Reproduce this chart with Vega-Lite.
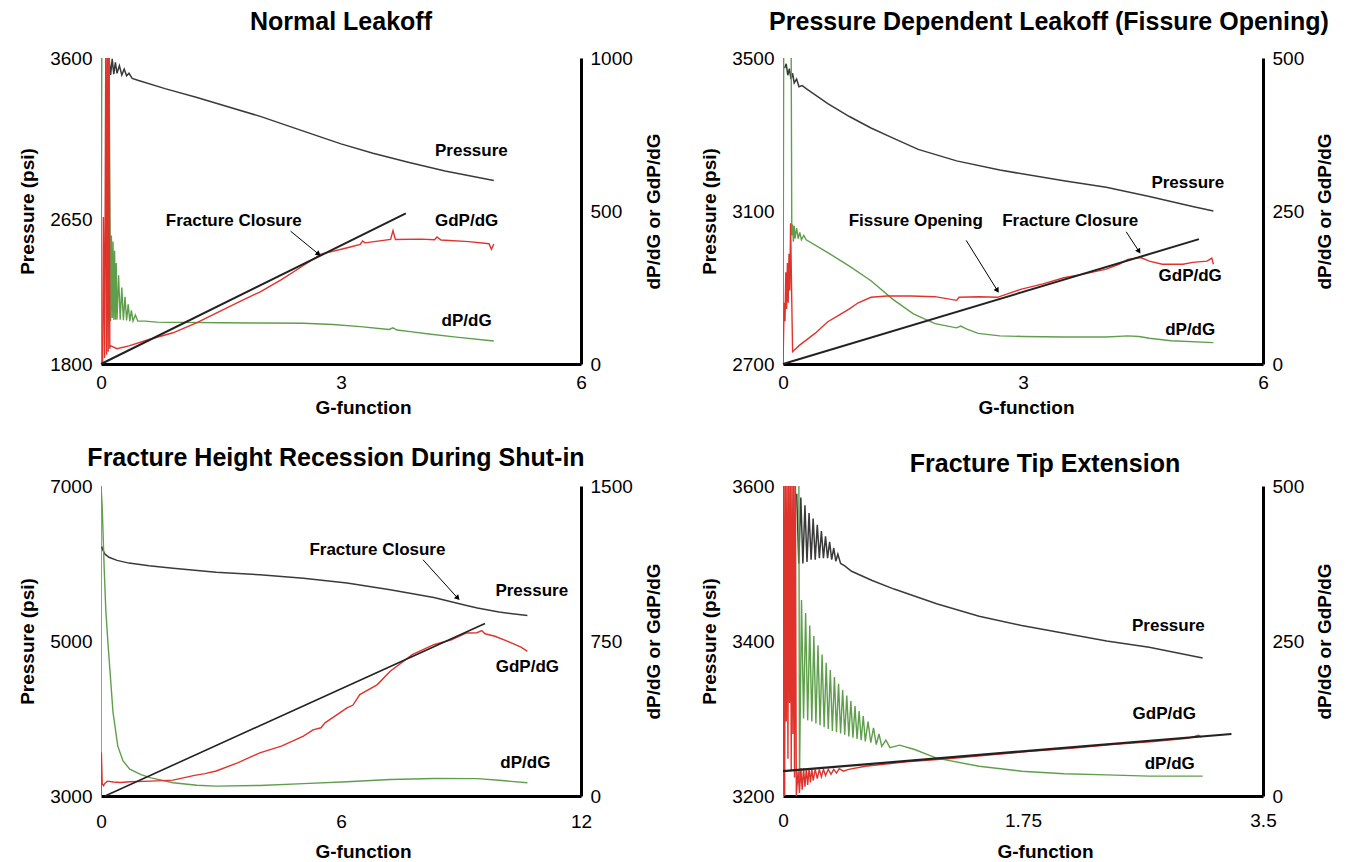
{
  "$schema": "https://vega.github.io/schema/vega-lite/v6.json",
  "background": "white",
  "padding": {"left": 18, "top": 10, "right": 5, "bottom": 0},
  "config": {
    "font": "Liberation Sans",
    "view": {"stroke": null},
    "axis": {"grid": false, "ticks": false, "labelFont": "Liberation Sans", "labelFontSize": 19, "labelColor": "#000", "titleFont": "Liberation Sans", "titleFontSize": 19, "titleFontWeight": "bold", "titleColor": "#000", "domainColor": "#000", "labelPadding": 9, "labelFlush": false},
    "axisLeft": {"domainColor": "#9a9a9a", "domainWidth": 1, "titlePadding": 12, "format": "d"},
    "axisRight": {"domainWidth": 3, "titleAngle": 270, "titleBaseline": "top", "titlePadding": 12, "format": "d"},
    "axisBottom": {"domainWidth": 3, "titlePadding": 6, "format": ".2~f"},
    "title": {"font": "Liberation Sans", "fontSize": 25, "fontWeight": "bold", "color": "#000", "frame": "group", "offset": 14},
    "text": {"font": "Liberation Sans", "fontSize": 17, "fontWeight": "bold", "color": "#000"}
  },
  "datasets": {
    "p1": [
      {"s": "P", "x": 0.10, "y": 3600}, {"s": "P", "x": 0.12, "y": 3500}, {"s": "P", "x": 0.14, "y": 3595}, {"s": "P", "x": 0.16, "y": 3505}, {"s": "P", "x": 0.18, "y": 3575}, {"s": "P", "x": 0.20, "y": 3510}, {"s": "P", "x": 0.23, "y": 3555}, {"s": "P", "x": 0.26, "y": 3500}, {"s": "P", "x": 0.29, "y": 3535}, {"s": "P", "x": 0.32, "y": 3495}, {"s": "P", "x": 0.35, "y": 3510}, {"s": "P", "x": 0.39, "y": 3480}, {"s": "P", "x": 0.46, "y": 3469}, {"s": "P", "x": 0.8, "y": 3420}, {"s": "P", "x": 1.2, "y": 3368}, {"s": "P", "x": 1.44, "y": 3334}, {"s": "P", "x": 2.0, "y": 3255}, {"s": "P", "x": 2.53, "y": 3170}, {"s": "P", "x": 3.0, "y": 3095}, {"s": "P", "x": 3.4, "y": 3040}, {"s": "P", "x": 3.84, "y": 2987}, {"s": "P", "x": 4.3, "y": 2935}, {"s": "P", "x": 4.91, "y": 2880},
      {"s": "D", "x": 0.0, "y": 0}, {"s": "D", "x": 0.01, "y": 1050}, {"s": "D", "x": 0.1, "y": 1050}, {"s": "D", "x": 0.12, "y": 140}, {"s": "D", "x": 0.13, "y": 420}, {"s": "D", "x": 0.14, "y": 150}, {"s": "D", "x": 0.15, "y": 400}, {"s": "D", "x": 0.16, "y": 145}, {"s": "D", "x": 0.17, "y": 370}, {"s": "D", "x": 0.18, "y": 145}, {"s": "D", "x": 0.19, "y": 330}, {"s": "D", "x": 0.20, "y": 145}, {"s": "D", "x": 0.22, "y": 290}, {"s": "D", "x": 0.24, "y": 145}, {"s": "D", "x": 0.26, "y": 250}, {"s": "D", "x": 0.28, "y": 143}, {"s": "D", "x": 0.30, "y": 220}, {"s": "D", "x": 0.32, "y": 142}, {"s": "D", "x": 0.34, "y": 195}, {"s": "D", "x": 0.36, "y": 140}, {"s": "D", "x": 0.38, "y": 175}, {"s": "D", "x": 0.40, "y": 140}, {"s": "D", "x": 0.43, "y": 160}, {"s": "D", "x": 0.46, "y": 140}, {"s": "D", "x": 0.55, "y": 140}, {"s": "D", "x": 0.7, "y": 137}, {"s": "D", "x": 0.85, "y": 136}, {"s": "D", "x": 1.01, "y": 136}, {"s": "D", "x": 1.5, "y": 135}, {"s": "D", "x": 2.0, "y": 134}, {"s": "D", "x": 2.53, "y": 133}, {"s": "D", "x": 2.9, "y": 129}, {"s": "D", "x": 3.24, "y": 122}, {"s": "D", "x": 3.6, "y": 113}, {"s": "D", "x": 3.65, "y": 118}, {"s": "D", "x": 3.7, "y": 111}, {"s": "D", "x": 3.89, "y": 105}, {"s": "D", "x": 4.1, "y": 98}, {"s": "D", "x": 4.44, "y": 88}, {"s": "D", "x": 4.91, "y": 75},
      {"s": "G", "x": 0.02, "y": 0}, {"s": "G", "x": 0.03, "y": 480}, {"s": "G", "x": 0.045, "y": 20}, {"s": "G", "x": 0.06, "y": 1050}, {"s": "G", "x": 0.07, "y": 30}, {"s": "G", "x": 0.08, "y": 1050}, {"s": "G", "x": 0.09, "y": 40}, {"s": "G", "x": 0.1, "y": 1050}, {"s": "G", "x": 0.11, "y": 50}, {"s": "G", "x": 0.115, "y": 60}, {"s": "G", "x": 0.2, "y": 50}, {"s": "G", "x": 0.35, "y": 59}, {"s": "G", "x": 0.6, "y": 80}, {"s": "G", "x": 0.9, "y": 102}, {"s": "G", "x": 1.2, "y": 135}, {"s": "G", "x": 1.44, "y": 166}, {"s": "G", "x": 1.7, "y": 200}, {"s": "G", "x": 1.99, "y": 236}, {"s": "G", "x": 2.25, "y": 275}, {"s": "G", "x": 2.53, "y": 322}, {"s": "G", "x": 2.75, "y": 359}, {"s": "G", "x": 3.08, "y": 380}, {"s": "G", "x": 3.24, "y": 391}, {"s": "G", "x": 3.27, "y": 402}, {"s": "G", "x": 3.3, "y": 396}, {"s": "G", "x": 3.62, "y": 407}, {"s": "G", "x": 3.65, "y": 436}, {"s": "G", "x": 3.68, "y": 407}, {"s": "G", "x": 4.0, "y": 408}, {"s": "G", "x": 4.17, "y": 406}, {"s": "G", "x": 4.2, "y": 415}, {"s": "G", "x": 4.25, "y": 405}, {"s": "G", "x": 4.6, "y": 400}, {"s": "G", "x": 4.85, "y": 393}, {"s": "G", "x": 4.88, "y": 375}, {"s": "G", "x": 4.91, "y": 392},
      {"s": "L", "x": 0.0, "y": 0}, {"s": "L", "x": 3.81, "y": 492}
    ],
    "n1": [
      {"label": "Pressure", "x": 4.63, "y": 697}, {"label": "GdP/dG", "x": 4.57, "y": 466}, {"label": "dP/dG", "x": 4.57, "y": 141}, {"label": "Fracture Closure", "x": 1.66, "y": 468}
    ],
    "a1": [{"x": 2.37, "y": 434, "x2": 2.72, "y2": 359}],
    "p2": [
      {"s": "P", "x": 0.02, "y": 3473}, {"s": "P", "x": 0.04, "y": 3485}, {"s": "P", "x": 0.06, "y": 3455}, {"s": "P", "x": 0.08, "y": 3472}, {"s": "P", "x": 0.10, "y": 3445}, {"s": "P", "x": 0.12, "y": 3460}, {"s": "P", "x": 0.14, "y": 3435}, {"s": "P", "x": 0.17, "y": 3445}, {"s": "P", "x": 0.2, "y": 3425}, {"s": "P", "x": 0.24, "y": 3428}, {"s": "P", "x": 0.29, "y": 3420}, {"s": "P", "x": 0.56, "y": 3381}, {"s": "P", "x": 0.83, "y": 3347}, {"s": "P", "x": 1.10, "y": 3317}, {"s": "P", "x": 1.37, "y": 3291}, {"s": "P", "x": 1.69, "y": 3261}, {"s": "P", "x": 2.17, "y": 3231}, {"s": "P", "x": 2.71, "y": 3207}, {"s": "P", "x": 3.51, "y": 3179}, {"s": "P", "x": 4.04, "y": 3162}, {"s": "P", "x": 4.58, "y": 3138}, {"s": "P", "x": 5.12, "y": 3112}, {"s": "P", "x": 5.38, "y": 3100},
      {"s": "D", "x": 0.0, "y": 0}, {"s": "D", "x": 0.01, "y": 600}, {"s": "D", "x": 0.1, "y": 600}, {"s": "D", "x": 0.11, "y": 210}, {"s": "D", "x": 0.12, "y": 228}, {"s": "D", "x": 0.13, "y": 200}, {"s": "D", "x": 0.14, "y": 226}, {"s": "D", "x": 0.15, "y": 205}, {"s": "D", "x": 0.17, "y": 222}, {"s": "D", "x": 0.19, "y": 205}, {"s": "D", "x": 0.21, "y": 215}, {"s": "D", "x": 0.23, "y": 203}, {"s": "D", "x": 0.26, "y": 210}, {"s": "D", "x": 0.29, "y": 203}, {"s": "D", "x": 0.56, "y": 182}, {"s": "D", "x": 0.83, "y": 160}, {"s": "D", "x": 1.10, "y": 136}, {"s": "D", "x": 1.37, "y": 106}, {"s": "D", "x": 1.63, "y": 82}, {"s": "D", "x": 1.90, "y": 66}, {"s": "D", "x": 2.17, "y": 59}, {"s": "D", "x": 2.22, "y": 62}, {"s": "D", "x": 2.3, "y": 57}, {"s": "D", "x": 2.44, "y": 50}, {"s": "D", "x": 2.71, "y": 46}, {"s": "D", "x": 3.0, "y": 45}, {"s": "D", "x": 3.51, "y": 44}, {"s": "D", "x": 4.04, "y": 44}, {"s": "D", "x": 4.31, "y": 46}, {"s": "D", "x": 4.45, "y": 45}, {"s": "D", "x": 4.58, "y": 42}, {"s": "D", "x": 4.85, "y": 38}, {"s": "D", "x": 5.38, "y": 35},
      {"s": "G", "x": 0.0, "y": 0}, {"s": "G", "x": 0.015, "y": 100}, {"s": "G", "x": 0.025, "y": 70}, {"s": "G", "x": 0.035, "y": 150}, {"s": "G", "x": 0.045, "y": 90}, {"s": "G", "x": 0.055, "y": 165}, {"s": "G", "x": 0.065, "y": 100}, {"s": "G", "x": 0.075, "y": 180}, {"s": "G", "x": 0.085, "y": 120}, {"s": "G", "x": 0.095, "y": 230}, {"s": "G", "x": 0.105, "y": 140}, {"s": "G", "x": 0.12, "y": 20}, {"s": "G", "x": 0.2, "y": 30}, {"s": "G", "x": 0.29, "y": 39}, {"s": "G", "x": 0.4, "y": 50}, {"s": "G", "x": 0.56, "y": 69}, {"s": "G", "x": 0.7, "y": 80}, {"s": "G", "x": 0.83, "y": 90}, {"s": "G", "x": 0.94, "y": 100}, {"s": "G", "x": 1.10, "y": 109}, {"s": "G", "x": 1.3, "y": 111}, {"s": "G", "x": 1.6, "y": 111}, {"s": "G", "x": 1.9, "y": 110}, {"s": "G", "x": 2.17, "y": 104}, {"s": "G", "x": 2.2, "y": 109}, {"s": "G", "x": 2.45, "y": 110}, {"s": "G", "x": 2.68, "y": 109}, {"s": "G", "x": 2.97, "y": 122}, {"s": "G", "x": 3.25, "y": 131}, {"s": "G", "x": 3.51, "y": 141}, {"s": "G", "x": 3.8, "y": 148}, {"s": "G", "x": 4.04, "y": 155}, {"s": "G", "x": 4.2, "y": 163}, {"s": "G", "x": 4.31, "y": 171}, {"s": "G", "x": 4.47, "y": 174}, {"s": "G", "x": 4.58, "y": 168}, {"s": "G", "x": 4.74, "y": 163}, {"s": "G", "x": 5.0, "y": 163}, {"s": "G", "x": 5.12, "y": 166}, {"s": "G", "x": 5.3, "y": 168}, {"s": "G", "x": 5.36, "y": 173}, {"s": "G", "x": 5.38, "y": 163},
      {"s": "L", "x": 0.0, "y": 0}, {"s": "L", "x": 5.2, "y": 204}
    ],
    "n2": [
      {"label": "Pressure", "x": 5.06, "y": 295}, {"label": "Fissure Opening", "x": 1.66, "y": 233}, {"label": "Fracture Closure", "x": 3.59, "y": 233}, {"label": "GdP/dG", "x": 5.09, "y": 143}, {"label": "dP/dG", "x": 5.09, "y": 55}
    ],
    "a2": [{"x": 2.29, "y": 202, "x2": 2.68, "y2": 120}, {"x": 4.29, "y": 216, "x2": 4.45, "y2": 184}],
    "p3": [
      {"s": "P", "x": 0.02, "y": 6220}, {"s": "P", "x": 0.04, "y": 6180}, {"s": "P", "x": 0.1, "y": 6120}, {"s": "P", "x": 0.2, "y": 6080}, {"s": "P", "x": 0.4, "y": 6040}, {"s": "P", "x": 0.7, "y": 6005}, {"s": "P", "x": 1.2, "y": 5970}, {"s": "P", "x": 1.8, "y": 5940}, {"s": "P", "x": 2.88, "y": 5888}, {"s": "P", "x": 3.97, "y": 5854}, {"s": "P", "x": 5.06, "y": 5811}, {"s": "P", "x": 6.15, "y": 5747}, {"s": "P", "x": 7.23, "y": 5661}, {"s": "P", "x": 8.32, "y": 5562}, {"s": "P", "x": 9.14, "y": 5459}, {"s": "P", "x": 9.41, "y": 5425}, {"s": "P", "x": 9.95, "y": 5373}, {"s": "P", "x": 10.66, "y": 5330},
      {"s": "D", "x": 0.0, "y": 1500}, {"s": "D", "x": 0.03, "y": 1400}, {"s": "D", "x": 0.08, "y": 1100}, {"s": "D", "x": 0.12, "y": 900}, {"s": "D", "x": 0.17, "y": 750}, {"s": "D", "x": 0.3, "y": 405}, {"s": "D", "x": 0.42, "y": 241}, {"s": "D", "x": 0.55, "y": 170}, {"s": "D", "x": 0.72, "y": 130}, {"s": "D", "x": 1.0, "y": 103}, {"s": "D", "x": 1.25, "y": 88}, {"s": "D", "x": 1.8, "y": 64}, {"s": "D", "x": 2.4, "y": 52}, {"s": "D", "x": 2.88, "y": 48}, {"s": "D", "x": 3.97, "y": 51}, {"s": "D", "x": 5.06, "y": 60}, {"s": "D", "x": 6.15, "y": 69}, {"s": "D", "x": 7.23, "y": 80}, {"s": "D", "x": 8.32, "y": 85}, {"s": "D", "x": 9.41, "y": 84}, {"s": "D", "x": 9.95, "y": 76}, {"s": "D", "x": 10.66, "y": 64},
      {"s": "G", "x": 0.0, "y": 0}, {"s": "G", "x": 0.01, "y": 210}, {"s": "G", "x": 0.03, "y": 60}, {"s": "G", "x": 0.06, "y": 50}, {"s": "G", "x": 0.1, "y": 62}, {"s": "G", "x": 0.16, "y": 72}, {"s": "G", "x": 0.3, "y": 68}, {"s": "G", "x": 0.5, "y": 65}, {"s": "G", "x": 0.71, "y": 69}, {"s": "G", "x": 1.25, "y": 72}, {"s": "G", "x": 1.80, "y": 77}, {"s": "G", "x": 2.34, "y": 100}, {"s": "G", "x": 2.6, "y": 108}, {"s": "G", "x": 2.88, "y": 121}, {"s": "G", "x": 3.43, "y": 161}, {"s": "G", "x": 3.97, "y": 209}, {"s": "G", "x": 4.51, "y": 241}, {"s": "G", "x": 5.06, "y": 290}, {"s": "G", "x": 5.3, "y": 320}, {"s": "G", "x": 5.5, "y": 330}, {"s": "G", "x": 5.60, "y": 354}, {"s": "G", "x": 6.15, "y": 426}, {"s": "G", "x": 6.3, "y": 440}, {"s": "G", "x": 6.4, "y": 470}, {"s": "G", "x": 6.47, "y": 491}, {"s": "G", "x": 6.91, "y": 539}, {"s": "G", "x": 7.23, "y": 604}, {"s": "G", "x": 7.78, "y": 684}, {"s": "G", "x": 8.32, "y": 732}, {"s": "G", "x": 8.76, "y": 756}, {"s": "G", "x": 9.14, "y": 789}, {"s": "G", "x": 9.4, "y": 790}, {"s": "G", "x": 9.52, "y": 800}, {"s": "G", "x": 9.6, "y": 785}, {"s": "G", "x": 9.85, "y": 773}, {"s": "G", "x": 10.17, "y": 748}, {"s": "G", "x": 10.5, "y": 720}, {"s": "G", "x": 10.66, "y": 700},
      {"s": "L", "x": 0.1, "y": 0}, {"s": "L", "x": 9.6, "y": 835}
    ],
    "n3": [
      {"label": "Fracture Closure", "x": 6.91, "y": 1191}, {"label": "Pressure", "x": 10.77, "y": 993}, {"label": "GdP/dG", "x": 10.66, "y": 623}, {"label": "dP/dG", "x": 10.61, "y": 161}
    ],
    "a3": [{"x": 8.05, "y": 1143, "x2": 8.92, "y2": 957}],
    "p4": [
      {"s": "P", "x": 0.10, "y": 3590}, {"s": "P", "x": 0.115, "y": 3500}, {"s": "P", "x": 0.13, "y": 3585}, {"s": "P", "x": 0.145, "y": 3500}, {"s": "P", "x": 0.16, "y": 3575}, {"s": "P", "x": 0.175, "y": 3502}, {"s": "P", "x": 0.19, "y": 3565}, {"s": "P", "x": 0.205, "y": 3505}, {"s": "P", "x": 0.22, "y": 3558}, {"s": "P", "x": 0.235, "y": 3505}, {"s": "P", "x": 0.25, "y": 3550}, {"s": "P", "x": 0.265, "y": 3507}, {"s": "P", "x": 0.28, "y": 3542}, {"s": "P", "x": 0.295, "y": 3507}, {"s": "P", "x": 0.31, "y": 3535}, {"s": "P", "x": 0.325, "y": 3507}, {"s": "P", "x": 0.34, "y": 3528}, {"s": "P", "x": 0.355, "y": 3505}, {"s": "P", "x": 0.37, "y": 3520}, {"s": "P", "x": 0.385, "y": 3503}, {"s": "P", "x": 0.40, "y": 3512}, {"s": "P", "x": 0.42, "y": 3500}, {"s": "P", "x": 0.45, "y": 3497}, {"s": "P", "x": 0.5, "y": 3490}, {"s": "P", "x": 0.65, "y": 3478}, {"s": "P", "x": 0.81, "y": 3467}, {"s": "P", "x": 1.12, "y": 3448}, {"s": "P", "x": 1.43, "y": 3432}, {"s": "P", "x": 1.74, "y": 3420}, {"s": "P", "x": 2.05, "y": 3410}, {"s": "P", "x": 2.36, "y": 3400}, {"s": "P", "x": 2.67, "y": 3392}, {"s": "P", "x": 3.06, "y": 3378},
      {"s": "D", "x": 0.0, "y": 0}, {"s": "D", "x": 0.005, "y": 600}, {"s": "D", "x": 0.115, "y": 600}, {"s": "D", "x": 0.12, "y": 20}, {"s": "D", "x": 0.135, "y": 316}, {"s": "D", "x": 0.15, "y": 125}, {"s": "D", "x": 0.165, "y": 295}, {"s": "D", "x": 0.18, "y": 122}, {"s": "D", "x": 0.195, "y": 275}, {"s": "D", "x": 0.21, "y": 120}, {"s": "D", "x": 0.225, "y": 258}, {"s": "D", "x": 0.24, "y": 117}, {"s": "D", "x": 0.255, "y": 243}, {"s": "D", "x": 0.27, "y": 114}, {"s": "D", "x": 0.285, "y": 228}, {"s": "D", "x": 0.30, "y": 111}, {"s": "D", "x": 0.315, "y": 215}, {"s": "D", "x": 0.33, "y": 108}, {"s": "D", "x": 0.345, "y": 203}, {"s": "D", "x": 0.36, "y": 105}, {"s": "D", "x": 0.375, "y": 192}, {"s": "D", "x": 0.39, "y": 103}, {"s": "D", "x": 0.405, "y": 181}, {"s": "D", "x": 0.42, "y": 101}, {"s": "D", "x": 0.435, "y": 171}, {"s": "D", "x": 0.45, "y": 99}, {"s": "D", "x": 0.465, "y": 162}, {"s": "D", "x": 0.48, "y": 96}, {"s": "D", "x": 0.495, "y": 153}, {"s": "D", "x": 0.51, "y": 94}, {"s": "D", "x": 0.525, "y": 145}, {"s": "D", "x": 0.54, "y": 92}, {"s": "D", "x": 0.555, "y": 137}, {"s": "D", "x": 0.57, "y": 90}, {"s": "D", "x": 0.585, "y": 129}, {"s": "D", "x": 0.60, "y": 88}, {"s": "D", "x": 0.62, "y": 120}, {"s": "D", "x": 0.64, "y": 86}, {"s": "D", "x": 0.66, "y": 110}, {"s": "D", "x": 0.68, "y": 83}, {"s": "D", "x": 0.70, "y": 100}, {"s": "D", "x": 0.72, "y": 80}, {"s": "D", "x": 0.75, "y": 90}, {"s": "D", "x": 0.78, "y": 78}, {"s": "D", "x": 0.85, "y": 82}, {"s": "D", "x": 0.96, "y": 75}, {"s": "D", "x": 1.12, "y": 61}, {"s": "D", "x": 1.43, "y": 48}, {"s": "D", "x": 1.74, "y": 40}, {"s": "D", "x": 2.05, "y": 36}, {"s": "D", "x": 2.36, "y": 34}, {"s": "D", "x": 2.67, "y": 32}, {"s": "D", "x": 3.06, "y": 32},
      {"s": "G", "x": 0.0, "y": 0}, {"s": "G", "x": 0.006, "y": 520}, {"s": "G", "x": 0.012, "y": 0}, {"s": "G", "x": 0.018, "y": 520}, {"s": "G", "x": 0.024, "y": 120}, {"s": "G", "x": 0.030, "y": 520}, {"s": "G", "x": 0.036, "y": 60}, {"s": "G", "x": 0.042, "y": 520}, {"s": "G", "x": 0.048, "y": 150}, {"s": "G", "x": 0.054, "y": 520}, {"s": "G", "x": 0.060, "y": 40}, {"s": "G", "x": 0.066, "y": 520}, {"s": "G", "x": 0.072, "y": 100}, {"s": "G", "x": 0.078, "y": 520}, {"s": "G", "x": 0.084, "y": 30}, {"s": "G", "x": 0.09, "y": 520}, {"s": "G", "x": 0.097, "y": 0}, {"s": "G", "x": 0.11, "y": 40}, {"s": "G", "x": 0.12, "y": 5}, {"s": "G", "x": 0.13, "y": 45}, {"s": "G", "x": 0.14, "y": 10}, {"s": "G", "x": 0.15, "y": 45}, {"s": "G", "x": 0.16, "y": 15}, {"s": "G", "x": 0.17, "y": 44}, {"s": "G", "x": 0.18, "y": 18}, {"s": "G", "x": 0.19, "y": 44}, {"s": "G", "x": 0.20, "y": 22}, {"s": "G", "x": 0.21, "y": 43}, {"s": "G", "x": 0.22, "y": 25}, {"s": "G", "x": 0.235, "y": 43}, {"s": "G", "x": 0.25, "y": 28}, {"s": "G", "x": 0.265, "y": 43}, {"s": "G", "x": 0.28, "y": 31}, {"s": "G", "x": 0.295, "y": 43}, {"s": "G", "x": 0.31, "y": 33}, {"s": "G", "x": 0.33, "y": 43}, {"s": "G", "x": 0.35, "y": 35}, {"s": "G", "x": 0.37, "y": 43}, {"s": "G", "x": 0.39, "y": 37}, {"s": "G", "x": 0.41, "y": 44}, {"s": "G", "x": 0.44, "y": 40}, {"s": "G", "x": 0.48, "y": 43}, {"s": "G", "x": 0.6, "y": 48}, {"s": "G", "x": 0.9, "y": 55}, {"s": "G", "x": 1.2, "y": 60}, {"s": "G", "x": 1.5, "y": 66}, {"s": "G", "x": 1.8, "y": 72}, {"s": "G", "x": 2.1, "y": 77}, {"s": "G", "x": 2.4, "y": 83}, {"s": "G", "x": 2.7, "y": 88}, {"s": "G", "x": 2.95, "y": 93}, {"s": "G", "x": 3.0, "y": 96}, {"s": "G", "x": 3.03, "y": 98}, {"s": "G", "x": 3.05, "y": 95},
      {"s": "L", "x": 0.0, "y": 40}, {"s": "L", "x": 3.27, "y": 100}
    ],
    "n4": [
      {"label": "Pressure", "x": 2.81, "y": 274}, {"label": "GdP/dG", "x": 2.78, "y": 133}, {"label": "dP/dG", "x": 2.82, "y": 52}
    ]
  },
  "columns": 2,
  "spacing": {"row": 29, "column": 36},
  "concat": [
    {
      "title": {"text": "Normal Leakoff"},
      "width": 480, "height": 306,
      "layer": [
        {
          "data": {"name": "p1"}, "transform": [{"filter": "datum.s === 'P'"}],
          "mark": {"type": "line", "color": "#3a3a3a", "strokeWidth": 1.5, "clip": true},
          "encoding": {
            "x": {"field": "x", "type": "quantitative", "scale": {"domain": [0, 6], "nice": false}, "axis": {"values": [0, 3, 6], "title": "G-function", "titleX": 262}},
            "y": {"field": "y", "type": "quantitative", "scale": {"domain": [1800, 3600], "nice": false, "zero": false}, "axis": {"values": [1800, 2650, 3600], "title": "Pressure (psi)", "orient": "left"}}
          }
        },
        {
          "layer": [
            {"data": {"name": "p1"}, "transform": [{"filter": "datum.s === 'D'"}], "mark": {"type": "line", "color": "#5f9f4c", "strokeWidth": 1.4, "clip": true},
             "encoding": {"x": {"field": "x", "type": "quantitative", "scale": {"domain": [0, 6]}}, "y": {"field": "y", "type": "quantitative", "scale": {"domain": [0, 1000], "nice": false}, "axis": {"orient": "right", "values": [0, 500, 1000], "title": "dP/dG or GdP/dG"}}}},
            {"data": {"name": "p1"}, "transform": [{"filter": "datum.s === 'G'"}], "mark": {"type": "line", "color": "#e0332c", "strokeWidth": 1.4, "clip": true},
             "encoding": {"x": {"field": "x", "type": "quantitative", "scale": {"domain": [0, 6]}}, "y": {"field": "y", "type": "quantitative", "scale": {"domain": [0, 1000]}}}},
            {"data": {"name": "p1"}, "transform": [{"filter": "datum.s === 'L'"}], "mark": {"type": "line", "color": "#222", "strokeWidth": 2},
             "encoding": {"x": {"field": "x", "type": "quantitative", "scale": {"domain": [0, 6]}}, "y": {"field": "y", "type": "quantitative", "scale": {"domain": [0, 1000]}}}},
            {"mark": {"type": "rule", "color": "#c8c8c8", "strokeWidth": 1.2}, "encoding": {"y": {"datum": 500, "scale": {"domain": [0, 1000]}}}},
            {"mark": {"type": "rule", "color": "#000", "strokeWidth": 3}, "encoding": {"y": {"datum": 1000, "scale": {"domain": [0, 1000]}}}},
            {"data": {"name": "n1"}, "mark": {"type": "text"},
             "encoding": {"x": {"field": "x", "type": "quantitative", "scale": {"domain": [0, 6]}}, "y": {"field": "y", "type": "quantitative", "scale": {"domain": [0, 1000]}}, "text": {"field": "label"}}},
            {"data": {"name": "a1"}, "mark": {"type": "rule", "color": "#000", "strokeWidth": 1},
             "encoding": {"x": {"field": "x", "type": "quantitative", "scale": {"domain": [0, 6]}}, "y": {"field": "y", "type": "quantitative", "scale": {"domain": [0, 1000]}}, "x2": {"field": "x2"}, "y2": {"field": "y2"}}},
            {"data": {"name": "a1"}, "mark": {"type": "point", "shape": "triangle-up", "filled": true, "size": 35, "angle": 130, "color": "#000", "opacity": 1},
             "encoding": {"x": {"field": "x2", "type": "quantitative", "scale": {"domain": [0, 6]}}, "y": {"field": "y2", "type": "quantitative", "scale": {"domain": [0, 1000]}}}}
          ]
        }
      ],
      "resolve": {"scale": {"y": "independent"}}
    },
    {
      "title": {"text": "Pressure Dependent Leakoff (Fissure Opening)", "dx": 26},
      "width": 480, "height": 306,
      "layer": [
        {
          "data": {"name": "p2"}, "transform": [{"filter": "datum.s === 'P'"}],
          "mark": {"type": "line", "color": "#3a3a3a", "strokeWidth": 1.5, "clip": true},
          "encoding": {
            "x": {"field": "x", "type": "quantitative", "scale": {"domain": [0, 6], "nice": false}, "axis": {"values": [0, 3, 6], "title": "G-function", "titleX": 243}},
            "y": {"field": "y", "type": "quantitative", "scale": {"domain": [2700, 3500], "nice": false, "zero": false}, "axis": {"values": [2700, 3100, 3500], "title": "Pressure (psi)", "orient": "left"}}
          }
        },
        {
          "layer": [
            {"data": {"name": "p2"}, "transform": [{"filter": "datum.s === 'D'"}], "mark": {"type": "line", "color": "#5f9f4c", "strokeWidth": 1.4, "clip": true},
             "encoding": {"x": {"field": "x", "type": "quantitative", "scale": {"domain": [0, 6]}}, "y": {"field": "y", "type": "quantitative", "scale": {"domain": [0, 500], "nice": false}, "axis": {"orient": "right", "values": [0, 250, 500], "title": "dP/dG or GdP/dG"}}}},
            {"data": {"name": "p2"}, "transform": [{"filter": "datum.s === 'G'"}], "mark": {"type": "line", "color": "#e0332c", "strokeWidth": 1.4, "clip": true},
             "encoding": {"x": {"field": "x", "type": "quantitative", "scale": {"domain": [0, 6]}}, "y": {"field": "y", "type": "quantitative", "scale": {"domain": [0, 500]}}}},
            {"data": {"name": "p2"}, "transform": [{"filter": "datum.s === 'L'"}], "mark": {"type": "line", "color": "#222", "strokeWidth": 2},
             "encoding": {"x": {"field": "x", "type": "quantitative", "scale": {"domain": [0, 6]}}, "y": {"field": "y", "type": "quantitative", "scale": {"domain": [0, 500]}}}},
            {"mark": {"type": "rule", "color": "#000", "strokeWidth": 2}, "encoding": {"y": {"datum": 250, "scale": {"domain": [0, 500]}}}},
            {"mark": {"type": "rule", "color": "#000", "strokeWidth": 3}, "encoding": {"y": {"datum": 500, "scale": {"domain": [0, 500]}}}},
            {"data": {"name": "n2"}, "mark": {"type": "text"},
             "encoding": {"x": {"field": "x", "type": "quantitative", "scale": {"domain": [0, 6]}}, "y": {"field": "y", "type": "quantitative", "scale": {"domain": [0, 500]}}, "text": {"field": "label"}}},
            {"data": {"name": "a2"}, "mark": {"type": "rule", "color": "#000", "strokeWidth": 1},
             "encoding": {"x": {"field": "x", "type": "quantitative", "scale": {"domain": [0, 6]}}, "y": {"field": "y", "type": "quantitative", "scale": {"domain": [0, 500]}}, "x2": {"field": "x2"}, "y2": {"field": "y2"}}},
            {"data": {"name": "a2"}, "mark": {"type": "point", "shape": "triangle-up", "filled": true, "size": 35, "angle": 147, "color": "#000", "opacity": 1},
             "encoding": {"x": {"field": "x2", "type": "quantitative", "scale": {"domain": [0, 6]}}, "y": {"field": "y2", "type": "quantitative", "scale": {"domain": [0, 500]}}}}
          ]
        }
      ],
      "resolve": {"scale": {"y": "independent"}}
    },
    {
      "title": {"text": "Fracture Height Recession During Shut-in", "dx": -5, "offset": 6},
      "width": 480, "height": 310,
      "layer": [
        {
          "data": {"name": "p3"}, "transform": [{"filter": "datum.s === 'P'"}],
          "mark": {"type": "line", "color": "#3a3a3a", "strokeWidth": 1.5, "clip": true},
          "encoding": {
            "x": {"field": "x", "type": "quantitative", "scale": {"domain": [0, 12], "nice": false}, "axis": {"values": [0, 6, 12], "title": "G-function", "labelPadding": 16, "titlePadding": 11, "titleX": 262}},
            "y": {"field": "y", "type": "quantitative", "scale": {"domain": [3000, 7000], "nice": false, "zero": false}, "axis": {"values": [3000, 5000, 7000], "title": "Pressure (psi)", "orient": "left"}}
          }
        },
        {
          "layer": [
            {"data": {"name": "p3"}, "transform": [{"filter": "datum.s === 'D'"}], "mark": {"type": "line", "color": "#5f9f4c", "strokeWidth": 1.4, "clip": true},
             "encoding": {"x": {"field": "x", "type": "quantitative", "scale": {"domain": [0, 12]}}, "y": {"field": "y", "type": "quantitative", "scale": {"domain": [0, 1500], "nice": false}, "axis": {"orient": "right", "values": [0, 750, 1500], "title": "dP/dG or GdP/dG"}}}},
            {"data": {"name": "p3"}, "transform": [{"filter": "datum.s === 'G'"}], "mark": {"type": "line", "color": "#e0332c", "strokeWidth": 1.4, "clip": true},
             "encoding": {"x": {"field": "x", "type": "quantitative", "scale": {"domain": [0, 12]}}, "y": {"field": "y", "type": "quantitative", "scale": {"domain": [0, 1500]}}}},
            {"data": {"name": "p3"}, "transform": [{"filter": "datum.s === 'L'"}], "mark": {"type": "line", "color": "#222", "strokeWidth": 1.6},
             "encoding": {"x": {"field": "x", "type": "quantitative", "scale": {"domain": [0, 12]}}, "y": {"field": "y", "type": "quantitative", "scale": {"domain": [0, 1500]}}}},
            {"mark": {"type": "rule", "color": "#333", "strokeWidth": 1}, "encoding": {"y": {"datum": 750, "scale": {"domain": [0, 1500]}}}},
            {"mark": {"type": "rule", "color": "#000", "strokeWidth": 3}, "encoding": {"y": {"datum": 1500, "scale": {"domain": [0, 1500]}}}},
            {"mark": {"type": "rule", "color": "#000", "strokeWidth": 1.2}, "encoding": {"x": {"datum": 9.12, "scale": {"domain": [0, 12]}}, "y": {"datum": -55, "scale": {"domain": [0, 1500]}}, "y2": {"datum": 985}}},
            {"data": {"name": "n3"}, "mark": {"type": "text"},
             "encoding": {"x": {"field": "x", "type": "quantitative", "scale": {"domain": [0, 12]}}, "y": {"field": "y", "type": "quantitative", "scale": {"domain": [0, 1500]}}, "text": {"field": "label"}}},
            {"data": {"name": "a3"}, "mark": {"type": "rule", "color": "#000", "strokeWidth": 1},
             "encoding": {"x": {"field": "x", "type": "quantitative", "scale": {"domain": [0, 12]}}, "y": {"field": "y", "type": "quantitative", "scale": {"domain": [0, 1500]}}, "x2": {"field": "x2"}, "y2": {"field": "y2"}}},
            {"data": {"name": "a3"}, "mark": {"type": "point", "shape": "triangle-up", "filled": true, "size": 35, "angle": 137, "color": "#000", "opacity": 1},
             "encoding": {"x": {"field": "x2", "type": "quantitative", "scale": {"domain": [0, 12]}}, "y": {"field": "y2", "type": "quantitative", "scale": {"domain": [0, 1500]}}}}
          ]
        }
      ],
      "resolve": {"scale": {"y": "independent"}}
    },
    {
      "title": {"text": "Fracture Tip Extension", "dx": 22, "offset": 0},
      "width": 480, "height": 310,
      "layer": [
        {
          "data": {"name": "p4"}, "transform": [{"filter": "datum.s === 'P'"}],
          "mark": {"type": "line", "color": "#3a3a3a", "strokeWidth": 1.5, "clip": true},
          "encoding": {
            "x": {"field": "x", "type": "quantitative", "scale": {"domain": [0, 3.5], "nice": false}, "axis": {"values": [0, 1.75, 3.5], "title": "G-function", "labelPadding": 15, "titlePadding": 12, "titleX": 262}},
            "y": {"field": "y", "type": "quantitative", "scale": {"domain": [3200, 3600], "nice": false, "zero": false}, "axis": {"values": [3200, 3400, 3600], "title": "Pressure (psi)", "orient": "left"}}
          }
        },
        {
          "layer": [
            {"data": {"name": "p4"}, "transform": [{"filter": "datum.s === 'D'"}], "mark": {"type": "line", "color": "#5f9f4c", "strokeWidth": 1.4, "clip": true},
             "encoding": {"x": {"field": "x", "type": "quantitative", "scale": {"domain": [0, 3.5]}}, "y": {"field": "y", "type": "quantitative", "scale": {"domain": [0, 500], "nice": false}, "axis": {"orient": "right", "values": [0, 250, 500], "title": "dP/dG or GdP/dG"}}}},
            {"data": {"name": "p4"}, "transform": [{"filter": "datum.s === 'G'"}], "mark": {"type": "line", "color": "#e0332c", "strokeWidth": 1.4, "clip": true},
             "encoding": {"x": {"field": "x", "type": "quantitative", "scale": {"domain": [0, 3.5]}}, "y": {"field": "y", "type": "quantitative", "scale": {"domain": [0, 500]}}}},
            {"data": {"name": "p4"}, "transform": [{"filter": "datum.s === 'L'"}], "mark": {"type": "line", "color": "#222", "strokeWidth": 2.2},
             "encoding": {"x": {"field": "x", "type": "quantitative", "scale": {"domain": [0, 3.5]}}, "y": {"field": "y", "type": "quantitative", "scale": {"domain": [0, 500]}}}},
            {"mark": {"type": "rule", "color": "#000", "strokeWidth": 1.6}, "encoding": {"y": {"datum": 250, "scale": {"domain": [0, 500]}}}},
            {"mark": {"type": "rule", "color": "#000", "strokeWidth": 3}, "encoding": {"y": {"datum": 500, "scale": {"domain": [0, 500]}}}},
            {"data": {"name": "n4"}, "mark": {"type": "text"},
             "encoding": {"x": {"field": "x", "type": "quantitative", "scale": {"domain": [0, 3.5]}}, "y": {"field": "y", "type": "quantitative", "scale": {"domain": [0, 500]}}, "text": {"field": "label"}}}
          ]
        }
      ],
      "resolve": {"scale": {"y": "independent"}}
    }
  ]
}
